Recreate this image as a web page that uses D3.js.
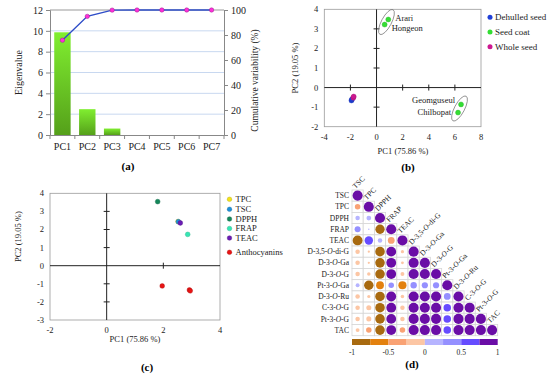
<!DOCTYPE html>
<html lang="en">
<head>
<meta charset="UTF-8">
<title>PCA and correlation of seed extracts</title>
<style>
  body { margin: 0; background: #fff; }
  svg { display: block; font-family: "Liberation Serif", "DejaVu Serif", serif; }
</style>
</head>
<body>
<svg id="chart" width="550" height="380"></svg>
<script src="https://cdn.jsdelivr.net/npm/d3@7/dist/d3.min.js"></script>
<script>
// ---- (a) scree plot ----
const pcs = ["PC1", "PC2", "PC3", "PC4", "PC5", "PC6", "PC7"];
const eigenvalues = [9.86, 2.48, 0.62, 0, 0, 0, 0];
const cumulative = [75.86, 94.91, 99.9, 100, 100, 100, 100];
const eigenTicks = [0, 2, 4, 6, 8, 10, 12];
const cumTicks = [0, 20, 40, 60, 80, 100];

// ---- (b) score plot ----
const scoreGroups = ["Dehulled seed", "Seed coat", "Whole seed"];
const scoreColors = ["#1f3fd6", "#33dd33", "#cc1890"];
const scorePC1 = [-1.92, -1.88, -1.78, -1.75, 0.9, 0.62, 6.47, 6.24];
const scorePC2 = [-0.66, -0.6, -0.52, -0.46, 3.48, 3.22, -0.86, -1.28];
const scoreGroupOf = ["Dehulled seed", "Dehulled seed", "Whole seed", "Whole seed", "Seed coat", "Seed coat", "Seed coat", "Seed coat"];
const scoreNames = ["", "", "", "", "Arari", "Hongeon", "Geomguseul", "Chilbopat"];
const bXTicks = [-4, -2, 0, 2, 4, 6, 8];
const bYTicks = [-2, -1, 0, 1, 2, 3, 4];

// ---- (c) loading plot ----
const loadingGroups = ["TPC", "TSC", "DPPH", "FRAP", "TEAC", "Anthocyanins"];
const loadingColors = ["#f2e21a", "#1e8fd8", "#14875a", "#36e6b4", "#6a1cb4", "#e81414"];
const loadPC1 = [2.52, 2.53, 1.8, 2.86, 2.6, 1.96, 2.92, 2.95];
const loadPC2 = [2.44, 2.43, 3.54, 1.73, 2.36, -1.12, -1.34, -1.39];
const loadGroupOf = ["TPC", "TSC", "DPPH", "FRAP", "TEAC", "Anthocyanins", "Anthocyanins", "Anthocyanins"];
const cXTicks = [-2, 0, 2, 4];
const cYTicks = [-3, -2, -1, 0, 1, 2, 3, 4];

// ---- (d) correlogram ----
const corrVars = ["TSC", "TPC", "DPPH", "FRAP", "TEAC", "D-3,5-O-di-G", "D-3-O-Ga", "D-3-O-G",
  "Pt-3-O-Ga", "D-3-O-Ru", "C-3-O-G", "Pt-3-O-G", "TAC"];
const corrRows = [
  [1],
  [-0.3, 1],
  [0.2, 0.22, 1],
  [0.35, 0.02, -0.85, 1],
  [-0.95, 0.7, 0.2, -0.45, 1],
  [-0.2, -0.05, -0.9, 0.95, -0.1, 1],
  [-0.2, -0.05, -0.9, 0.95, -0.08, 0.99, 1],
  [-0.2, -0.12, -0.9, 0.95, -0.15, 0.99, 0.99, 1],
  [0.15, -0.88, -0.6, 0.3, -0.65, 0.4, 0.38, 0.38, 1],
  [-0.2, -0.1, -0.9, 0.95, -0.12, 0.99, 0.99, 0.99, 0.45, 1],
  [-0.2, -0.25, -0.9, 0.95, -0.2, 0.99, 0.99, 0.99, 0.55, 0.99, 1],
  [-0.2, -0.25, -0.9, 0.95, -0.2, 0.99, 0.99, 0.99, 0.55, 0.99, 0.99, 1],
  [-0.15, -0.3, -0.9, 0.95, -0.3, 0.99, 0.99, 0.99, 0.55, 0.99, 0.99, 0.99, 1]
];
const corrBreaks = [-1, -0.75, -0.5, -0.25, 0, 0.25, 0.5, 0.75, 1];
const corrColors = ["#a86a10", "#e3810f", "#f9a274", "#fcc6a4", "#b6b4ff", "#9590ff", "#664cff", "#6a0da6"];
const corrTicks = [-1, -0.5, 0, 0.5, 1];

const svg = d3.select("#chart");
const FONT = "Liberation Serif";

// ================= (a) =================
const aL = 50, aR = 224, aT = 10, aB = 135;
const xA = d3.scaleBand().domain(pcs).range([aL, aR]).paddingInner(0.34).paddingOuter(0.17);
const yA = d3.scaleLinear().domain([0, 12]).range([aB, aT]);
const yA2 = d3.scaleLinear().domain([0, 100]).range([aB, aT]);
const gA = svg.append("g");

const grad = svg.append("defs").append("linearGradient")
  .attr("id", "barGrad").attr("x1", 0).attr("y1", 0).attr("x2", 0).attr("y2", 1);
grad.append("stop").attr("offset", "0%").attr("stop-color", "#80ee30");
grad.append("stop").attr("offset", "100%").attr("stop-color", "#55a01a");

gA.selectAll(".grid").data(eigenTicks.filter(d => d > 0 && d < 12)).enter().append("line")
  .attr("x1", aL).attr("x2", aR).attr("y1", d => yA(d)).attr("y2", d => yA(d))
  .attr("stroke", "#c8d8f0").attr("stroke-width", 1);
gA.append("line").attr("x1", aL).attr("x2", aR).attr("y1", aT).attr("y2", aT)
  .attr("stroke", "#999").attr("stroke-width", 1);

gA.selectAll(".bar").data(pcs).enter().append("rect")
  .attr("x", d => xA(d))
  .attr("width", xA.bandwidth())
  .attr("y", (d, i) => yA(eigenvalues[i]))
  .attr("height", (d, i) => aB - yA(eigenvalues[i]))
  .attr("fill", "url(#barGrad)");

const axL = gA.append("g").attr("transform", `translate(${aL},0)`)
  .call(d3.axisLeft(yA).tickValues(eigenTicks).tickSize(4).tickPadding(3));
const axR = gA.append("g").attr("transform", `translate(${aR},0)`)
  .call(d3.axisRight(yA2).tickValues(cumTicks).tickSize(4).tickPadding(3));
const axB = gA.append("g").attr("transform", `translate(0,${aB})`)
  .call(d3.axisBottom(xA).tickSize(0).tickPadding(8));
[axL, axR, axB].forEach(a => {
  a.attr("font-family", FONT).attr("font-size", 10);
  a.select(".domain").attr("stroke", "#888");
  a.selectAll(".tick line").attr("stroke", "#888");
  a.selectAll("text").attr("fill", "#222");
});
// ticks between bars
gA.selectAll(".xt").data(d3.range(pcs.length + 1)).enter().append("line")
  .attr("x1", i => aL + i * (aR - aL) / pcs.length).attr("x2", i => aL + i * (aR - aL) / pcs.length)
  .attr("y1", aB).attr("y2", aB + 4).attr("stroke", "#888");

const lineA = d3.line().x((d, i) => xA(pcs[i]) + xA.bandwidth() / 2).y(d => yA2(d));
gA.append("path").datum(cumulative).attr("d", lineA)
  .attr("fill", "none").attr("stroke", "#2d4cc8").attr("stroke-width", 1.4);
gA.selectAll(".pt").data(cumulative).enter().append("circle")
  .attr("cx", (d, i) => xA(pcs[i]) + xA.bandwidth() / 2).attr("cy", d => yA2(d))
  .attr("r", 2.2).attr("fill", "#ff30d8").attr("stroke", "#9a2090").attr("stroke-width", 0.5);

gA.append("text").attr("transform", `translate(22,${(aT + aB) / 2}) rotate(-90)`)
  .attr("text-anchor", "middle").attr("font-size", 10).attr("fill", "#222").text("Eigenvalue");
gA.append("text").attr("transform", `translate(258,${(aT + aB) / 2 + 8}) rotate(-90)`)
  .attr("text-anchor", "middle").attr("font-size", 9.5).attr("fill", "#222").text("Cumulative variability (%)");
gA.append("text").attr("x", 128).attr("y", 170).attr("text-anchor", "middle")
  .attr("font-size", 11).attr("font-weight", "bold").text("(a)");

// ================= scatter helper =================
function scatterFrame(g, x, y, xTicks, yTicks, fs) {
  const [x0, x1] = x.range(), [y0, y1] = y.range();
  g.append("rect").attr("x", x0).attr("y", y1).attr("width", x1 - x0).attr("height", y0 - y1)
    .attr("fill", "none").attr("stroke", "#9a9a9a").attr("stroke-width", 0.8);
  g.append("line").attr("x1", x(0)).attr("x2", x(0)).attr("y1", y1).attr("y2", y0).attr("stroke", "#222");
  g.append("line").attr("x1", x0).attr("x2", x1).attr("y1", y(0)).attr("y2", y(0)).attr("stroke", "#222");
  g.selectAll(".yt").data(yTicks.filter(d => d !== 0 && d !== y.domain()[0] && d !== y.domain()[1]))
    .enter().append("line")
    .attr("x1", x(0) - 3).attr("x2", x(0) + 3).attr("y1", d => y(d)).attr("y2", d => y(d)).attr("stroke", "#222");
  g.selectAll(".xt").data(xTicks.filter(d => d !== 0 && d !== x.domain()[0] && d !== x.domain()[1]))
    .enter().append("line")
    .attr("x1", d => x(d)).attr("x2", d => x(d)).attr("y1", y(0) - 3).attr("y2", y(0) + 3).attr("stroke", "#222");
  g.selectAll(".xl").data(xTicks).enter().append("text")
    .attr("x", d => x(d)).attr("y", y0 + 13).attr("text-anchor", "middle")
    .attr("font-size", fs).attr("fill", "#222").text(d => d);
  g.selectAll(".yl").data(yTicks).enter().append("text")
    .attr("x", x0 - 6).attr("y", d => y(d)).attr("dy", "0.35em").attr("text-anchor", "end")
    .attr("font-size", fs).attr("fill", "#222").text(d => d);
}

// ================= (b) =================
const xB = d3.scaleLinear().domain([-4, 8]).range([324.3, 481]);
const yB = d3.scaleLinear().domain([-2, 4]).range([126.7, 9.3]);
const gB = svg.append("g");
scatterFrame(gB, xB, yB, bXTicks, bYTicks, 8.5);
const colB = d3.scaleOrdinal().domain(scoreGroups).range(scoreColors);

// ellipses around the seed coat pairs
[[4, 5], [6, 7]].forEach(([a, b]) => {
  const cx = (xB(scorePC1[a]) + xB(scorePC1[b])) / 2;
  const cy = (yB(scorePC2[a]) + yB(scorePC2[b])) / 2;
  gB.append("ellipse").attr("cx", cx).attr("cy", cy).attr("rx", 14).attr("ry", 5)
    .attr("transform", `rotate(-62,${cx},${cy})`)
    .attr("fill", "none").attr("stroke", "#777").attr("stroke-width", 0.7);
});

gB.selectAll(".pt").data(scorePC1).enter().append("circle")
  .attr("cx", d => xB(d)).attr("cy", (d, i) => yB(scorePC2[i]))
  .attr("r", 2.5).attr("fill", (d, i) => colB(scoreGroupOf[i]))
  .attr("stroke", (d, i) => d3.color(colB(scoreGroupOf[i])).darker(0.6)).attr("stroke-width", 0.4);

const nameOffsets = { Arari: [7, 1.5, "start"], Hongeon: [7, 6.5, "start"], Geomguseul: [-6, -1, "end"], Chilbopat: [-7, 2, "end"] };
gB.selectAll(".nm").data(scoreNames.map((n, i) => i).filter(i => scoreNames[i])).enter().append("text")
  .attr("x", i => xB(scorePC1[i]) + nameOffsets[scoreNames[i]][0])
  .attr("y", i => yB(scorePC2[i]) + nameOffsets[scoreNames[i]][1])
  .attr("text-anchor", i => nameOffsets[scoreNames[i]][2])
  .attr("font-size", 8.5).attr("fill", "#222").text(i => scoreNames[i]);

gB.append("text").attr("x", 403).attr("y", 154).attr("text-anchor", "middle")
  .attr("font-size", 8.5).attr("fill", "#222").text("PC1 (75.86 %)");
gB.append("text").attr("transform", `translate(298,${(9.3 + 126.7) / 2}) rotate(-90)`)
  .attr("text-anchor", "middle").attr("font-size", 8.5).attr("fill", "#222").text("PC2 (19.05 %)");

const legB = gB.selectAll(".lg").data(scoreGroups).enter().append("g")
  .attr("transform", (d, i) => `translate(490,${17.3 + i * 14.7})`);
legB.append("circle").attr("r", 2.5).attr("fill", d => colB(d));
legB.append("text").attr("x", 5).attr("dy", "0.35em").attr("font-size", 9).attr("fill", "#222").text(d => d);

gB.append("text").attr("x", 408).attr("y", 171).attr("text-anchor", "middle")
  .attr("font-size", 11).attr("font-weight", "bold").text("(b)");

// ================= (c) =================
const xC = d3.scaleLinear().domain([-2, 4]).range([50, 220]);
const yC = d3.scaleLinear().domain([-3, 4]).range([320, 193.3]);
const gC = svg.append("g");
scatterFrame(gC, xC, yC, cXTicks, cYTicks, 8.5);
const colC = d3.scaleOrdinal().domain(loadingGroups).range(loadingColors);

gC.selectAll(".pt").data(loadPC1).enter().append("circle")
  .attr("cx", d => xC(d)).attr("cy", (d, i) => yC(loadPC2[i]))
  .attr("r", 2.4).attr("fill", (d, i) => colC(loadGroupOf[i]))
  .attr("stroke", (d, i) => d3.color(colC(loadGroupOf[i])).darker(0.8)).attr("stroke-width", 0.4);

gC.append("text").attr("x", 135).attr("y", 342).attr("text-anchor", "middle")
  .attr("font-size", 8.5).attr("fill", "#222").text("PC1 (75.86 %)");
gC.append("text").attr("transform", `translate(21,${(193.3 + 320) / 2 - 20}) rotate(-90)`)
  .attr("text-anchor", "middle").attr("font-size", 8.5).attr("fill", "#222").text("PC2 (19.05 %)");

const legCY = [199.3, 209.3, 219, 228.5, 238, 252.3];
const legC = gC.selectAll(".lg").data(loadingGroups).enter().append("g")
  .attr("transform", (d, i) => `translate(229.5,${legCY[i]})`);
legC.append("circle").attr("r", 2.3).attr("fill", d => colC(d))
  .attr("stroke", d => d3.color(colC(d)).darker(0.8)).attr("stroke-width", 0.4);
legC.append("text").attr("x", 6).attr("dy", "0.35em").attr("font-size", 8.5).attr("fill", "#222").text(d => d);

gC.append("text").attr("x", 147).attr("y", 371).attr("text-anchor", "middle")
  .attr("font-size", 11).attr("font-weight", "bold").text("(c)");

// ================= (d) =================
const gD = svg.append("g");
const xD = d3.scaleBand().domain(corrVars).range([352, 497.7]);
const yD = d3.scaleBand().domain(corrVars).range([190, 335.7]);
const colD = d3.scaleThreshold().domain(corrBreaks.slice(1, -1)).range(corrColors);
const cs = xD.bandwidth();

const cells = [];
corrRows.forEach((row, i) => row.forEach((v, j) => cells.push({ r: corrVars[i], c: corrVars[j], v })));

gD.selectAll(".cell").data(cells).enter().append("rect")
  .attr("x", d => xD(d.c)).attr("y", d => yD(d.r)).attr("width", cs).attr("height", cs)
  .attr("fill", "#fff").attr("stroke", "#d6d6d6").attr("stroke-width", 0.8);
gD.selectAll(".dot").data(cells).enter().append("circle")
  .attr("cx", d => xD(d.c) + cs / 2).attr("cy", d => yD(d.r) + cs / 2)
  .attr("r", d => Math.sqrt(Math.abs(d.v)) * cs * 0.45)
  .attr("fill", d => colD(d.v));

function addLabel(t, label) {
  const parts = label.split("-O-");
  if (parts.length === 1) { t.text(label); return; }
  t.append("tspan").text(parts[0] + "-");
  t.append("tspan").attr("font-style", "italic").text("O");
  t.append("tspan").text("-" + parts[1]);
}

gD.selectAll(".rl").data(corrVars).enter().append("text")
  .attr("x", 349).attr("y", d => yD(d) + cs / 2).attr("dy", "0.35em")
  .attr("text-anchor", "end").attr("font-size", 7.5).attr("fill", "#222")
  .each(function (d) { addLabel(d3.select(this), d); });

gD.selectAll(".cl").data(corrVars).enter().append("text")
  .attr("transform", d => `translate(${xD(d) + cs / 2 - 2},${yD(d) - 1}) rotate(-45)`)
  .attr("font-size", 7.5).attr("fill", "#222")
  .each(function (d) { addLabel(d3.select(this), d); });

const xBar = d3.scaleLinear().domain([-1, 1]).range([352, 497.7]);
gD.selectAll(".cb").data(corrColors).enter().append("rect")
  .attr("x", (d, i) => xBar(corrBreaks[i])).attr("y", 339)
  .attr("width", (d, i) => xBar(corrBreaks[i + 1]) - xBar(corrBreaks[i])).attr("height", 6)
  .attr("fill", d => d);
gD.selectAll(".cbl").data(corrTicks).enter().append("text")
  .attr("x", d => xBar(d)).attr("y", 355).attr("text-anchor", "middle")
  .attr("font-size", 7.5).attr("fill", "#222").text(d => d);

gD.append("text").attr("x", 412).attr("y", 368).attr("text-anchor", "middle")
  .attr("font-size", 11).attr("font-weight", "bold").text("(d)");
</script>
</body>
</html>
